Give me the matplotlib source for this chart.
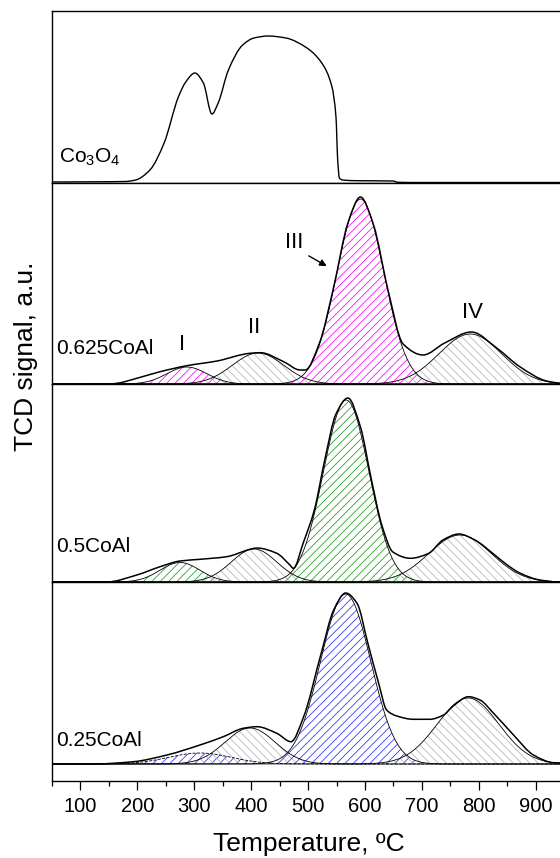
import numpy as np
import matplotlib
matplotlib.use("Agg")
import matplotlib.pyplot as plt
from matplotlib.ticker import MultipleLocator
from matplotlib.path import Path
from matplotlib.patches import PathPatch

plt.rcParams['font.family'] = ['Liberation Sans', 'DejaVu Sans']
plt.rcParams['mathtext.fontset'] = 'custom'
plt.rcParams['mathtext.rm'] = 'Liberation Sans'
plt.rcParams['mathtext.it'] = 'Liberation Sans:italic'
plt.rcParams['mathtext.bf'] = 'Liberation Sans:bold'
plt.rcParams['hatch.linewidth'] = 0.55

# ---------------- data ----------------
# Co3O4 TPR profile (temperature, signal)
co_T = [50, 120, 178, 197, 222, 247, 272, 285, 301, 316, 331, 342, 360, 385, 405,
        430, 461, 498, 524, 542, 549, 552, 555, 561, 586, 649, 658, 700, 800, 950, 1000]
co_h = [1, 1.2, 1.5, 3, 13, 40, 86, 101, 110, 100, 69, 80, 113, 138, 145,
        147, 145, 135, 120, 96, 66, 23, 5, 3, 2.3, 2, 0.7, 0.5, 0.5, 0.5, 0.5]

# 0.625CoAl: experimental profile and fitted peaks I-IV
s625_T = [50, 150, 164, 199, 240, 287, 340, 398, 416, 457, 486, 495, 520, 545, 570,
          592, 615, 640, 667, 702, 740, 787, 832, 872, 919, 945, 1000]
s625_h = [0, 0, 0.7, 5.7, 12.3, 18.3, 23, 30.7, 31.3, 22.3, 14, 14, 41, 97, 161,
          187, 159, 95, 40, 29, 41, 52, 35.7, 17.3, 3, 0.7, 0]
s625_center = [287, 412, 592, 785]
s625_height = [17, 31, 185, 50]
s625_sigma = [35, 45, 41, 55]

# 0.5CoAl
s50_T = [50, 146, 199, 240, 275, 310, 357, 400, 410, 445, 468, 474, 492, 511, 530, 549,
         570, 592, 611, 630, 649, 680, 712, 737, 765, 793, 828, 850, 872, 907, 940, 1000]
s50_h = [0, 0, 7, 15.3, 21, 22.7, 25.3, 33, 34, 28.7, 17, 13.7, 40, 72, 124, 168,
         184, 155, 103, 56, 30, 23.7, 28.7, 42, 48, 42, 27, 17, 9, 2, 0, 0]
s50_center = [275, 405, 567, 767]
s50_height = [19.5, 33, 182, 47]
s50_sigma = [35, 40, 40, 55]

# 0.25CoAl
s25_T = [50, 123, 193, 252, 310, 351, 386, 410, 445, 470, 492, 523, 545, 566, 586,
         605, 624, 638, 656, 685, 714, 738, 755, 782, 802, 826, 861, 896, 931, 1000]
s25_h = [0, 0, 2.3, 9, 19, 27.3, 35.7, 37.3, 30.7, 22.3, 47, 110.7, 154, 171, 160.7,
         120.7, 80.7, 54, 48, 44.7, 44.7, 49, 58, 67.3, 64, 50.7, 29, 9, 1.3, 0]
s25_center = [310, 398, 566, 781]
s25_height = [11, 36, 170, 66]
s25_sigma = [55, 44, 44, 54]

peak_labels = ['I', 'II', 'III', 'IV']
sample_names = ['0.625CoAl', '0.5CoAl', '0.25CoAl']
x_ticks = [100, 200, 300, 400, 500, 600, 700, 800, 900]

# ---------------- layout ----------------
W, H = 560, 858
fig = plt.figure(figsize=(W / 100, H / 100), dpi=100)
left = 52 / W
width = 950 * 0.5691 / W


def rect(top, bot):
    return [left, 1 - bot / H, width, (bot - top) / H]


ax1 = fig.add_axes(rect(11, 183))
ax2 = fig.add_axes(rect(183, 384))
ax3 = fig.add_axes(rect(384, 582))
ax4 = fig.add_axes(rect(582, 781))
axes = [ax1, ax2, ax3, ax4]
ax1.set_ylim(0, 172)
ax2.set_ylim(0, 201)
ax3.set_ylim(0, 198)
ax4.set_ylim(-17, 182)

for ax in axes:
    ax.set_xlim(50, 1000)
    for sp in ax.spines.values():
        sp.set_linewidth(1.0)
    ax.spines['right'].set_visible(False)
    ax.tick_params(left=False, labelleft=False, bottom=False, labelbottom=False)

ax4.tick_params(bottom=True, labelbottom=True, direction='out', which='major',
                length=6.5, width=0.9, labelsize=14.5, pad=5)
ax4.tick_params(bottom=True, which='minor', direction='out', length=3.8, width=0.9)
ax4.set_xticks(x_ticks)
ax4.xaxis.set_minor_locator(MultipleLocator(50))


def smooth_line(ax, T, h, lw, color='black'):
    """Draw a smooth curve through the read points (cubic Hermite Bezier path)."""
    xs = np.asarray(T, float)
    ys = np.asarray(h, float)
    d = np.diff(ys) / np.diff(xs)
    m = np.zeros_like(xs)
    m[0], m[-1] = d[0], d[-1]
    for i in range(1, len(xs) - 1):
        if d[i - 1] * d[i] <= 0:
            m[i] = 0.0
        else:
            w1 = 2 * (xs[i + 1] - xs[i]) + (xs[i] - xs[i - 1])
            w2 = (xs[i + 1] - xs[i]) + 2 * (xs[i] - xs[i - 1])
            m[i] = (w1 + w2) / (w1 / d[i - 1] + w2 / d[i])
    verts = [(xs[0], ys[0])]
    codes = [Path.MOVETO]
    for i in range(len(xs) - 1):
        dx = xs[i + 1] - xs[i]
        verts += [(xs[i] + dx / 3, ys[i] + m[i] * dx / 3),
                  (xs[i + 1] - dx / 3, ys[i + 1] - m[i + 1] * dx / 3),
                  (xs[i + 1], ys[i + 1])]
        codes += [Path.CURVE4] * 3
    ax.add_patch(PathPatch(Path(verts, codes), fill=False, edgecolor=color, lw=lw,
                           capstyle='round', joinstyle='round'))


# Co3O4
smooth_line(ax1, co_T, co_h, 1.0)

x = np.linspace(50, 1000, 951)
grey = '#b4b4b4'


def draw_panel(ax, T, h, centers, heights, sigmas, color, dashed_first=False):
    cols = [color, grey, color, grey]
    hatches = ['////', '\\\\\\\\', '////', '\\\\\\\\']
    for i, (c, a, s) in enumerate(zip(centers, heights, sigmas)):
        y = a * np.exp(-0.5 * ((x - c) / s) ** 2)
        with plt.rc_context({'hatch.color': cols[i]}):
            ax.fill_between(x, 0, y, facecolor='none', edgecolor=cols[i],
                            hatch=hatches[i], linewidth=0)
        ls = '--' if (dashed_first and i == 0) else '-'
        ax.plot(x, y, color='black', lw=0.6, ls=ls)
    smooth_line(ax, T, h, 1.1)


draw_panel(ax2, s625_T, s625_h, s625_center, s625_height, s625_sigma, '#ff00ff')
draw_panel(ax3, s50_T, s50_h, s50_center, s50_height, s50_sigma, '#1f9a1f')
draw_panel(ax4, s25_T, s25_h, s25_center, s25_height, s25_sigma, '#2a2aff', dashed_first=True)


# labels
def ftext(px, py, s, **kw):
    fig.text(px / W, 1 - py / H, s, **kw)


ftext(59, 157, 'Co$_3$O$_4$', fontsize=15, va='center', ha='left')
ftext(56, 348, sample_names[0], fontsize=15, va='center', ha='left')
ftext(56, 547, sample_names[1], fontsize=15, va='center', ha='left')
ftext(56, 740, sample_names[2], fontsize=15, va='center', ha='left')

label_T = [278.5, 405, 476.4, 788.7]
label_h = [39.5, 56.5, 141, 72]
for lab, t, hh in zip(peak_labels, label_T, label_h):
    ax2.text(t, hh, lab, fontsize=16, ha='center', va='center')
ax2.annotate('', xy=(537, 116.5), xytext=(497, 129.5),
             arrowprops=dict(arrowstyle='-|>', color='black', lw=1.0, mutation_scale=10))

ftext(308.6, 844, 'Temperature, ºC', fontsize=19, ha='center', va='center')
ftext(26, 356, 'TCD signal, a.u.', fontsize=19, ha='center', va='center', rotation=90)

fig.savefig('out.png', dpi=100)
